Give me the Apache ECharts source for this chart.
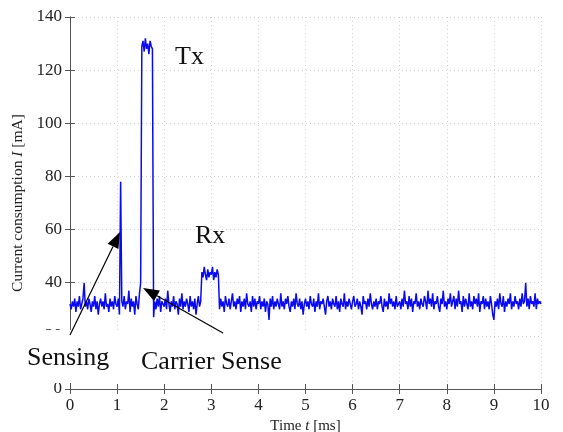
<!DOCTYPE html>
<html>
<head>
<meta charset="utf-8">
<script src="https://cdn.jsdelivr.net/npm/echarts@6/dist/echarts.min.js"></script>
<style>
  html, body { margin: 0; padding: 0; background: #fff; }
  #myChart { width: 563px; height: 432px; }
</style>
</head>
<body>
<div id="myChart"></div>
<script>
// sampling step of the trace (ms)
const dt = 0.025;
// current consumption samples (mA), one every dt from t = 0 to 10 ms
const current = [
  32,30,33,31,34,29,33,31,35,30,32,34,40,31,33,30,34,32,29,33,
  31,35,30,33,28,32,34,31,33,30,36,31,32,29,34,31,33,30,35,32,
  31,34,28,78,33,31,35,30,33,32,37,29,34,31,33,28,35,32,30,36,
  40,129,131,127,132,128,130,126,131,129,128,27,33,30,34,31,35,29,33,32,
  31,34,30,37,32,29,33,31,35,30,33,32,28,34,31,36,30,33,31,34,
  32,29,35,31,33,30,34,28,32,35,31,33,44,42,46,43,41,45,42,44,
  43,46,41,44,42,45,43,30,34,31,33,29,35,32,31,34,30,33,36,31,
  33,30,34,32,35,29,33,31,34,30,36,32,31,33,29,35,31,34,30,33,
  32,35,30,33,31,34,29,33,32,26,34,31,35,30,33,31,34,32,30,36,
  31,33,30,34,32,35,31,29,33,31,34,30,36,32,31,34,30,33,28,32,
  34,31,33,30,35,32,31,34,29,33,31,36,30,33,32,34,31,28,33,35,
  31,33,30,34,32,31,35,30,33,29,34,32,31,36,30,33,31,34,32,30,
  33,35,31,32,34,30,33,31,28,35,32,33,30,34,31,36,32,30,33,31,
  34,30,33,32,35,31,29,34,31,33,30,36,32,34,31,33,30,35,31,32,
  33,30,34,31,37,32,33,30,35,31,34,29,33,32,36,31,33,30,34,32,
  31,35,33,30,37,32,34,31,36,30,33,32,35,31,29,34,32,37,31,33,
  30,34,32,36,31,33,35,30,34,31,37,32,33,29,35,31,34,32,30,36,
  31,33,30,35,32,34,31,36,29,33,32,35,30,34,31,33,30,35,32,28,
  26,33,31,34,30,36,32,31,35,29,33,31,34,32,36,30,33,31,35,32,
  33,30,34,31,36,32,33,40,31,34,30,35,32,33,31,36,30,34,32,33,
  32
];
const xTicks = [0, 1, 2, 3, 4, 5, 6, 7, 8, 9, 10];
const yTicks = [0, 20, 40, 60, 80, 100, 120, 140];
const phaseLabels = ['Tx', 'Rx', 'Sensing', 'Carrier Sense'];

const serif = '"Liberation Serif", "Times New Roman", serif';
const myChart = echarts.init(document.getElementById('myChart'), null, { renderer: 'canvas' });

// arrow from tail to tip, filled head
function arrow(tail, tip) {
  const dx = tip[0] - tail[0], dy = tip[1] - tail[1];
  const len = Math.sqrt(dx * dx + dy * dy);
  const ux = dx / len, uy = dy / len;
  const hl = 16, hw = 6;
  const bx = tip[0] - ux * hl, by = tip[1] - uy * hl;
  return [
    {
      type: 'line', z: 120,
      shape: { x1: tail[0], y1: tail[1], x2: bx, y2: by },
      style: { stroke: '#000', lineWidth: 1.2 }
    },
    {
      type: 'polygon', z: 120,
      shape: { points: [tip, [bx - uy * hw, by + ux * hw], [bx + uy * hw, by - ux * hw]] },
      style: { fill: '#000' }
    }
  ];
}

function label(text, x, y) {
  return {
    type: 'text', z: 120, x: x, y: y,
    style: { text: text, font: '26px ' + serif, fill: '#111', align: 'left', verticalAlign: 'middle' }
  };
}

const commonAxis = {
  axisLine: { show: true, lineStyle: { color: '#555', width: 1 } },
  axisTick: { show: true, inside: true, length: 5, lineStyle: { color: '#555' } }
};

const option = {
  animation: false,
  backgroundColor: '#fff',
  grid: { left: 70, right: 22, top: 17, bottom: 43, containLabel: false, outerBoundsMode: 'none' },
  xAxis: [
    Object.assign({}, commonAxis, {
      type: 'value', min: xTicks[0], max: xTicks[xTicks.length - 1], interval: 1,
      position: 'bottom',
      name: '{n|Time }{i|t}{n| [ms]}',
      nameLocation: 'middle', nameGap: 26,
      nameTextStyle: {
        rich: {
          n: { fontFamily: serif, fontSize: 15, color: '#222' },
          i: { fontFamily: serif, fontSize: 15, color: '#222', fontStyle: 'italic' }
        }
      },
      axisLabel: { fontFamily: serif, fontSize: 17, color: '#222', margin: 8 },
      splitLine: { show: true, lineStyle: { color: '#d4d4d4', type: [1, 3] } }
    }),
    Object.assign({}, commonAxis, {
      type: 'value', min: xTicks[0], max: xTicks[xTicks.length - 1], interval: 1,
      position: 'top', axisLabel: { show: false }, splitLine: { show: false }
    })
  ],
  yAxis: [
    Object.assign({}, commonAxis, {
      type: 'value', min: yTicks[0], max: yTicks[yTicks.length - 1], interval: 20,
      position: 'left',
      name: '{n|Current consumption }{i|I}{n| [mA]}',
      nameLocation: 'middle', nameGap: 44, nameRotate: 90,
      nameTextStyle: {
        rich: {
          n: { fontFamily: serif, fontSize: 15.5, color: '#222' },
          i: { fontFamily: serif, fontSize: 15.5, color: '#222', fontStyle: 'italic' }
        }
      },
      axisLabel: { fontFamily: serif, fontSize: 17, color: '#222', margin: 8 },
      splitLine: { show: true, lineStyle: { color: '#d4d4d4', type: [1, 3] } }
    }),
    Object.assign({}, commonAxis, {
      type: 'value', min: yTicks[0], max: yTicks[yTicks.length - 1], interval: 20,
      position: 'right', axisLabel: { show: false }, splitLine: { show: false }
    })
  ],
  series: [
    {
      type: 'line',
      data: current.map((v, i) => [+(i * dt).toFixed(3), v]),
      showSymbol: false,
      symbol: 'none',
      lineStyle: { color: '#0a0af0', width: 1.5 },
      z: 5
    }
  ],
  graphic: [
    // white patch over the lower-left corner that holds the phase labels
    {
      type: 'rect', z: 110, x: 0, y: 330,
      shape: { width: 320, height: 53 },
      style: { fill: '#fff' }
    },
    label(phaseLabels[0], 175, 57),
    label(phaseLabels[1], 195, 236),
    label(phaseLabels[2], 27, 358),
    label(phaseLabels[3], 141, 362),
    ...arrow([70, 335], [120, 232]),
    ...arrow([223, 333], [143, 288])
  ]
};

myChart.setOption(option);
</script>
</body>
</html>
